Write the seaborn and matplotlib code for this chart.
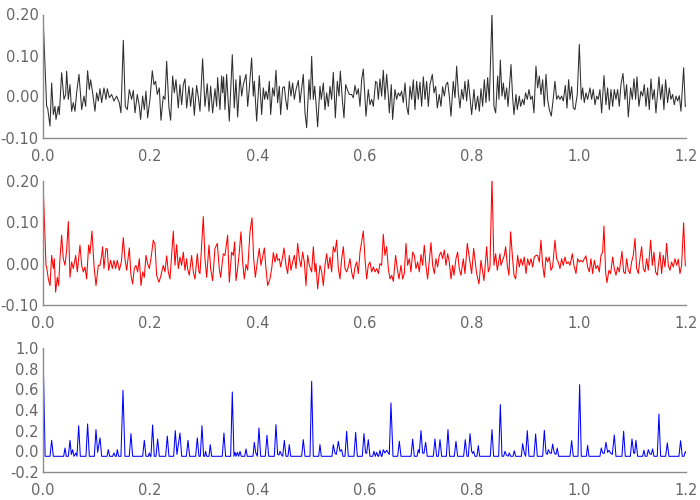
import matplotlib
matplotlib.use("Agg")
import matplotlib.pyplot as plt
import seaborn as sns
import pandas as pd
from matplotlib.ticker import FormatStrFormatter

# ---------------- data ----------------
t_top = [0.0000, 0.0068, 0.0087, 0.0131, 0.0162, 0.0193, 0.0224, 0.0243, 0.0286, 0.0305,
         0.0348, 0.0392, 0.0423, 0.0442, 0.0473, 0.0504, 0.0535, 0.0566, 0.0597, 0.0628,
         0.0672, 0.0722, 0.0765, 0.0796, 0.0833, 0.0865, 0.0889, 0.0927, 0.0970, 0.1001,
         0.1033, 0.1064, 0.1095, 0.1138, 0.1176, 0.1200, 0.1238, 0.1281, 0.1325, 0.1374,
         0.1424, 0.1455, 0.1499, 0.1536, 0.1574, 0.1611, 0.1655, 0.1686, 0.1717, 0.1760,
         0.1798, 0.1822, 0.1860, 0.1891, 0.1922, 0.1953, 0.1997, 0.2040, 0.2071, 0.2102,
         0.2133, 0.2171, 0.2202, 0.2245, 0.2277, 0.2308, 0.2351, 0.2382, 0.2420, 0.2451,
         0.2482, 0.2525, 0.2556, 0.2588, 0.2619, 0.2650, 0.2681, 0.2724, 0.2755, 0.2793,
         0.2824, 0.2867, 0.2905, 0.2930, 0.2979, 0.3023, 0.3066, 0.3098, 0.3129, 0.3166,
         0.3210, 0.3241, 0.3259, 0.3303, 0.3334, 0.3353, 0.3371, 0.3396, 0.3427, 0.3477,
         0.3533, 0.3570, 0.3601, 0.3633,
         0.3677, 0.3708, 0.3739, 0.3789, 0.3820, 0.3851, 0.3894, 0.3925, 0.3944, 0.3988,
         0.4037, 0.4081, 0.4112, 0.4137, 0.4162, 0.4193, 0.4224, 0.4249, 0.4286, 0.4317,
         0.4348, 0.4379, 0.4411, 0.4435, 0.4473, 0.4504, 0.4529, 0.4560, 0.4597, 0.4628,
         0.4659, 0.4690, 0.4722, 0.4765, 0.4796, 0.4858, 0.4890, 0.4921, 0.4964, 0.4989,
         0.5014, 0.5045, 0.5070, 0.5095, 0.5126, 0.5169, 0.5194, 0.5232, 0.5263, 0.5294,
         0.5325, 0.5356, 0.5387, 0.5418, 0.5456, 0.5493, 0.5524, 0.5549, 0.5586, 0.5617,
         0.5648, 0.5679, 0.5717, 0.5760, 0.5791, 0.5823, 0.5854, 0.5885, 0.5916, 0.5947,
         0.5978, 0.6009, 0.6028, 0.6071, 0.6102, 0.6134, 0.6165, 0.6208, 0.6233, 0.6258,
         0.6289, 0.6320, 0.6351, 0.6382, 0.6413, 0.6445, 0.6463, 0.6500, 0.6525, 0.6569,
         0.6600, 0.6631, 0.6662, 0.6693, 0.6724, 0.6756, 0.6787, 0.6818, 0.6849, 0.6880,
         0.6911, 0.6942, 0.6973, 0.7004, 0.7035, 0.7067, 0.7098, 0.7129, 0.7160, 0.7191,
         0.7222, 0.7266, 0.7297, 0.7328, 0.7359, 0.7396, 0.7427, 0.7458, 0.7490, 0.7521,
         0.7552, 0.7583, 0.7614, 0.7657, 0.7689, 0.7720, 0.7751, 0.7782, 0.7813, 0.7844,
         0.7875, 0.7906, 0.7937,
         0.8000, 0.8043, 0.8074, 0.8112, 0.8143, 0.8174, 0.8205, 0.8236, 0.8267, 0.8298,
         0.8329, 0.8379, 0.8416, 0.8448, 0.8485, 0.8510, 0.8535, 0.8566, 0.8591, 0.8622,
         0.8653, 0.8678, 0.8703, 0.8734, 0.8765, 0.8790, 0.8827, 0.8852, 0.8889, 0.8914,
         0.8951, 0.8976, 0.9007, 0.9038, 0.9070, 0.9101, 0.9132, 0.9163, 0.9200, 0.9231,
         0.9262, 0.9293, 0.9325, 0.9356, 0.9387, 0.9418, 0.9449, 0.9486, 0.9524, 0.9555,
         0.9586, 0.9617, 0.9648, 0.9679, 0.9710, 0.9748, 0.9779, 0.9810, 0.9835, 0.9866,
         0.9897, 0.9928, 0.9971, 1.0009, 1.0046, 1.0071, 1.0102, 1.0133, 1.0164, 1.0208,
         1.0239, 1.0270, 1.0301, 1.0332, 1.0363, 1.0394, 1.0426, 1.0469, 1.0506, 1.0537,
         1.0569, 1.0600, 1.0631, 1.0662, 1.0693, 1.0724, 1.0755, 1.0786, 1.0824, 1.0861,
         1.0892, 1.0923, 1.0967, 1.0998, 1.1029, 1.1060, 1.1085, 1.1122, 1.1159, 1.1191,
         1.1222, 1.1253, 1.1284, 1.1315, 1.1346, 1.1377, 1.1408, 1.1439, 1.1495, 1.1526,
         1.1557, 1.1588, 1.1619, 1.1657, 1.1688, 1.1719, 1.1750, 1.1781, 1.1813, 1.1844,
         1.1875, 1.1906, 1.1956, 1.1987, 1.2000]
v_top = [0.200, -0.024, -0.028, -0.072, 0.033, -0.044, -0.024, -0.056, -0.024, -0.044,
         0.058, -0.007, 0.005, 0.062, -0.007, 0.029, -0.036, -0.015, -0.036, 0.009,
         0.054, -0.032, 0.001, -0.024, 0.063, 0.017, 0.041, 0.009, -0.036, 0.009,
         -0.011, 0.019, -0.015, 0.021, -0.007, 0.019, -0.003, 0.005, -0.011, 0.001,
         -0.015, -0.040, 0.137, -0.024, -0.032, 0.017, -0.007, 0.015, -0.040, 0.005,
         -0.024, -0.056, 0.001, -0.032, 0.013, -0.052, -0.007, 0.063, 0.029, 0.037,
         0.005, 0.021, -0.058, 0.001, -0.007, 0.086, -0.028, -0.058, 0.050, 0.009,
         0.041, -0.028, 0.029, -0.020, 0.029, 0.043, -0.028, 0.025, -0.024, 0.021,
         -0.046, 0.027, -0.007, -0.036, 0.092, -0.024, 0.031, -0.036, 0.025, -0.040,
         0.019, -0.024, 0.046, -0.032, 0.050, 0.009, 0.048, -0.032, 0.054, -0.060,
         0.102, -0.028, 0.041, -0.050,
         0.051, 0.001, 0.029, 0.054, -0.024, 0.021, 0.094, 0.001, 0.037, -0.060,
         0.051, -0.044, 0.021, -0.007, 0.013, -0.007, 0.037, -0.044, 0.021, 0.001,
         0.064, -0.015, 0.025, -0.044, 0.021, 0.024, -0.007, -0.032, 0.037, 0.001,
         0.033, -0.007, 0.017, 0.039, -0.015, 0.054, -0.040, -0.076, 0.041, -0.007,
         0.098, -0.007, 0.025, -0.015, -0.074, 0.025, -0.007, 0.033, -0.032, 0.009,
         -0.024, 0.025, -0.007, 0.059, -0.052, 0.037, 0.001, 0.062, -0.007, -0.052,
         0.029, 0.017, 0.005, 0.005, -0.003, 0.027, 0.005, 0.019, -0.024, 0.041,
         0.067, -0.007, -0.048, 0.017, -0.020, -0.007, -0.024, 0.037, 0.033, -0.007,
         0.043, 0.001, 0.064, -0.007, 0.054, 0.001, -0.040, 0.029, -0.056, 0.017,
         -0.007, 0.009, 0.001, 0.013, -0.015, 0.033, -0.024, -0.044, 0.025, -0.007,
         0.041, -0.032, 0.037, -0.007, 0.035, -0.024, 0.048, -0.007, 0.037, -0.024,
         0.029, 0.054, 0.009, 0.025, -0.028, 0.005, -0.024, 0.024, 0.001, 0.029,
         0.035, 0.001, -0.048, 0.037, -0.003, 0.074, 0.009, -0.028, 0.017, -0.007,
         0.037, -0.011, 0.041,
         -0.044, 0.017, -0.032, 0.001, -0.036, 0.019, -0.024, 0.041, -0.015, 0.046,
         -0.011, 0.202, -0.024, -0.040, 0.050, -0.007, 0.089, 0.001, 0.033, -0.007,
         0.021, -0.024, 0.019, 0.078, -0.003, -0.044, 0.005, -0.032, 0.001, -0.024,
         -0.007, -0.020, 0.009, -0.007, 0.017, -0.007, 0.001, -0.040, 0.074, 0.021,
         0.050, 0.005, 0.041, -0.024, 0.054, -0.007, -0.032, -0.048, -0.003, 0.037,
         -0.007, 0.002, -0.007, 0.001, -0.011, 0.027, -0.028, 0.041, -0.007, 0.024,
         -0.028, -0.032, 0.005, 0.127, -0.007, 0.021, -0.015, 0.009, -0.007, 0.021,
         -0.007, 0.017, -0.020, 0.001, -0.007, 0.017, -0.040, 0.051, -0.020, 0.021,
         -0.032, 0.017, -0.024, 0.017, -0.007, 0.017, -0.024, 0.029, 0.056, -0.007,
         0.029, -0.050, 0.021, -0.007, 0.043, -0.007, 0.048, -0.024, 0.013, 0.001,
         0.029, -0.024, 0.021, -0.032, 0.043, -0.007, 0.017, -0.040, 0.048, -0.007,
         0.029, -0.032, 0.041, -0.015, 0.021, -0.007, 0.005, -0.020, 0.001, -0.011,
         0.002, -0.036, 0.070, -0.024, -0.022]

t_mid = [0.0000, 0.0056, 0.0068, 0.0100, 0.0131, 0.0162, 0.0193, 0.0211, 0.0236, 0.0267,
         0.0292, 0.0317, 0.0348, 0.0379, 0.0411, 0.0442, 0.0473, 0.0504, 0.0535, 0.0566,
         0.0610, 0.0641, 0.0690, 0.0722, 0.0753, 0.0784, 0.0815, 0.0852, 0.0877, 0.0914,
         0.0952, 0.0989, 0.1033, 0.1064, 0.1095, 0.1113, 0.1138, 0.1176, 0.1200, 0.1225,
         0.1263, 0.1294, 0.1325, 0.1356, 0.1387, 0.1424, 0.1462, 0.1499, 0.1530, 0.1561,
         0.1611, 0.1642, 0.1673, 0.1704, 0.1736, 0.1767, 0.1798, 0.1829, 0.1860, 0.1891,
         0.1922, 0.1953, 0.1984, 0.2015, 0.2059, 0.2090, 0.2121, 0.2165, 0.2202, 0.2245,
         0.2277, 0.2308, 0.2339, 0.2370, 0.2432, 0.2463, 0.2494, 0.2525, 0.2556, 0.2588,
         0.2619, 0.2650, 0.2681, 0.2699, 0.2731, 0.2774, 0.2805, 0.2836, 0.2880, 0.2911,
         0.2930, 0.2992, 0.3023, 0.3054, 0.3098, 0.3129, 0.3166, 0.3210, 0.3253, 0.3290,
         0.3315, 0.3365, 0.3396, 0.3446, 0.3477,
         0.3521, 0.3552, 0.3577, 0.3602, 0.3633, 0.3658, 0.3695, 0.3726, 0.3757, 0.3789,
         0.3820, 0.3863, 0.3901, 0.3932, 0.3963, 0.4000, 0.4037, 0.4068, 0.4093, 0.4131,
         0.4162, 0.4193, 0.4236, 0.4268, 0.4299, 0.4330, 0.4361, 0.4379, 0.4411, 0.4435,
         0.4467, 0.4498, 0.4535, 0.4566, 0.4597, 0.4628, 0.4659, 0.4690, 0.4722, 0.4753,
         0.4784, 0.4815, 0.4846, 0.4877, 0.4908, 0.4939, 0.4970, 0.5014, 0.5045, 0.5076,
         0.5095, 0.5126, 0.5169, 0.5201, 0.5232, 0.5263, 0.5294, 0.5325, 0.5356, 0.5387,
         0.5418, 0.5449, 0.5480, 0.5512, 0.5543, 0.5574, 0.5605, 0.5636, 0.5667, 0.5698,
         0.5729, 0.5760, 0.5791, 0.5823, 0.5854, 0.5885, 0.5916, 0.5947, 0.5978, 0.6009,
         0.6040, 0.6071, 0.6102, 0.6134, 0.6165, 0.6196, 0.6227, 0.6258, 0.6289, 0.6320,
         0.6351, 0.6382, 0.6413, 0.6445, 0.6476, 0.6507, 0.6538, 0.6581, 0.6612, 0.6644,
         0.6681, 0.6712, 0.6743, 0.6774, 0.6805, 0.6836, 0.6867, 0.6899, 0.6930, 0.6961,
         0.6992, 0.7023, 0.7054, 0.7085, 0.7116, 0.7147, 0.7178, 0.7210, 0.7241, 0.7272,
         0.7303, 0.7334, 0.7365, 0.7396, 0.7427, 0.7458, 0.7490, 0.7521, 0.7552, 0.7583,
         0.7614, 0.7645, 0.7670, 0.7707, 0.7738, 0.7769, 0.7800, 0.7844, 0.7875, 0.7919,
         0.7950, 0.8000, 0.8037, 0.8068, 0.8093, 0.8137, 0.8174, 0.8205, 0.8230, 0.8280,
         0.8311, 0.8342, 0.8379, 0.8416, 0.8448, 0.8479, 0.8528, 0.8547, 0.8578, 0.8609,
         0.8634, 0.8665, 0.8696, 0.8727, 0.8759, 0.8790, 0.8821, 0.8858, 0.8889, 0.8920,
         0.8951, 0.8982, 0.9014, 0.9045, 0.9076, 0.9107, 0.9138, 0.9169, 0.9200, 0.9231,
         0.9262, 0.9293, 0.9325, 0.9356, 0.9387, 0.9418, 0.9449, 0.9480, 0.9511, 0.9555,
         0.9586, 0.9617, 0.9648, 0.9679, 0.9710, 0.9741, 0.9772, 0.9804, 0.9835, 0.9878,
         0.9909, 0.9947, 0.9978, 1.0009, 1.0040, 1.0071, 1.0102, 1.0133, 1.0164, 1.0195,
         1.0226, 1.0258, 1.0289, 1.0320, 1.0351, 1.0382, 1.0413, 1.0444, 1.0469, 1.0500,
         1.0525, 1.0562, 1.0593, 1.0631, 1.0662, 1.0693, 1.0724, 1.0755, 1.0805, 1.0836,
         1.0867, 1.0892, 1.0923, 1.0954, 1.0985, 1.1016, 1.1048, 1.1079, 1.1110, 1.1141,
         1.1172, 1.1203, 1.1234, 1.1265, 1.1296, 1.1340, 1.1371, 1.1402, 1.1433, 1.1464,
         1.1514, 1.1545, 1.1576, 1.1607, 1.1638, 1.1670, 1.1701, 1.1732, 1.1763, 1.1794,
         1.1825, 1.1856, 1.1887, 1.1918, 1.1956, 1.1987, 1.2000]
v_mid = [0.200, -0.004, -0.008, -0.037, -0.053, 0.020, -0.012, 0.012, -0.069, -0.033,
         -0.053, 0.012, 0.069, 0.012, -0.004, 0.033, 0.102, -0.033, 0.004, -0.012,
         0.020, -0.020, 0.045, -0.004, -0.020, -0.008, -0.037, 0.045, 0.024, 0.079,
         -0.004, -0.053, -0.004, -0.004, 0.020, 0.041, -0.012, 0.037, 0.035, -0.016,
         0.008, -0.012, 0.008, -0.012, 0.008, -0.016, 0.004, 0.063, 0.012, -0.016,
         0.038, -0.028, -0.049, -0.012, -0.004, -0.020, 0.012, -0.053, -0.020, -0.033,
         0.020, 0.000, -0.012, 0.012, 0.057, 0.046, -0.028, -0.045, -0.028, -0.004,
         -0.020, 0.019, -0.020, -0.037, 0.079, -0.004, 0.046, -0.012, 0.016, -0.004,
         0.028, -0.016, 0.012, -0.012, -0.028, 0.020, -0.020, -0.037, 0.024, -0.020,
         -0.024, 0.114, 0.012, -0.033, 0.045, -0.012, -0.041, 0.037, 0.049, -0.012,
         -0.033, 0.024, 0.020, 0.069, -0.045,
         0.028, 0.020, 0.053, -0.041, -0.012, 0.020, 0.077, 0.004, -0.037, -0.002,
         -0.016, 0.077, 0.111, 0.012, -0.033, 0.004, 0.037, -0.004, 0.012, 0.038,
         -0.012, -0.053, -0.037, -0.012, 0.027, 0.004, 0.024, 0.008, 0.012, -0.008,
         0.012, 0.038, -0.004, -0.024, 0.020, -0.016, 0.004, 0.020, -0.012, 0.049,
         0.012, -0.008, 0.028, 0.004, -0.053, 0.020, -0.004, -0.020, 0.041, -0.020,
         0.000, -0.061, -0.004, -0.020, -0.053, -0.004, 0.024, -0.012, 0.016, -0.020,
         0.041, 0.028, 0.057, -0.012, -0.037, 0.012, 0.041, -0.012, -0.020, -0.008,
         0.012, -0.020, -0.037, -0.008, 0.004, -0.024, 0.028, 0.053, 0.079, 0.012,
         -0.037, -0.004, 0.004, -0.020, -0.008, -0.020, -0.012, -0.024, 0.000, -0.004,
         0.071, 0.020, 0.041, -0.012, -0.037, -0.028, -0.043, 0.020, -0.012, -0.037,
         -0.004, -0.037, -0.024, 0.049, -0.004, 0.012, -0.020, 0.028, 0.020, -0.012,
         0.004, -0.020, 0.022, -0.004, 0.045, -0.004, -0.037, 0.008, 0.051, -0.004,
         -0.024, 0.012, -0.008, 0.020, 0.028, 0.012, 0.033, -0.004, 0.024, 0.004,
         -0.037, -0.004, -0.028, 0.012, 0.028, -0.012, -0.028, 0.012, -0.024, 0.049,
         0.020, -0.024, 0.037, 0.004, -0.024, -0.049, 0.008, -0.020, -0.041, 0.041,
         -0.020, -0.008, 0.207, -0.004, 0.024, -0.016, 0.024, -0.004, 0.008, 0.020,
         0.041, -0.004, -0.028, 0.077, 0.020, -0.028, -0.037, 0.020, -0.008, 0.012,
         -0.004, 0.016, -0.024, 0.012, -0.004, 0.012, -0.008, 0.016, 0.020, 0.020,
         0.004, 0.057, -0.004, -0.033, 0.016, 0.004, 0.016, -0.016, -0.008, 0.057,
         0.012, 0.004, -0.012, 0.012, -0.004, 0.016, 0.000, 0.004, -0.004, 0.024,
         -0.004, -0.024, 0.012, 0.004, 0.008, 0.004, 0.012, 0.019, -0.008, -0.020,
         0.012, -0.024, 0.008, -0.012, -0.004, -0.020, 0.020, 0.028, 0.091, -0.020,
         -0.046, -0.016, -0.024, 0.016, -0.012, -0.028, -0.008, -0.020, 0.030, -0.020,
         -0.024, 0.012, -0.016, -0.024, 0.004, 0.020, 0.061, -0.012, -0.024, 0.012,
         0.041, -0.012, -0.020, 0.012, -0.016, 0.057, -0.004, 0.028, -0.020, -0.028,
         0.028, -0.024, 0.020, -0.008, 0.049, -0.004, -0.016, 0.004, -0.008, 0.012,
         -0.004, 0.011, -0.024, -0.004, 0.099, -0.004, -0.006]

t_bot = [0.0000, 0.0040, 0.0131, 0.0162, 0.0193, 0.0386, 0.0411, 0.0435, 0.0473, 0.0504,
         0.0529, 0.0554, 0.0578, 0.0616, 0.0634, 0.0666, 0.0697, 0.0802, 0.0833, 0.0865,
         0.0958, 0.0989, 0.1020, 0.1064, 0.1095, 0.1195, 0.1219, 0.1244, 0.1300, 0.1325,
         0.1350, 0.1368, 0.1387, 0.1412, 0.1455, 0.1493, 0.1530, 0.1611, 0.1642, 0.1673,
         0.1860, 0.1891, 0.1922, 0.1966, 0.1984, 0.2003, 0.2015, 0.2046, 0.2077, 0.2109,
         0.2140, 0.2171, 0.2289, 0.2320, 0.2351, 0.2438, 0.2469, 0.2500, 0.2557, 0.2588,
         0.2675, 0.2706, 0.2737, 0.2849, 0.2880, 0.2911, 0.2936, 0.2967, 0.2998, 0.3017,
         0.3035, 0.3054, 0.3098, 0.3122, 0.3147, 0.3346, 0.3377, 0.3408, 0.3502, 0.3533,
         0.3564, 0.3583, 0.3602, 0.3627, 0.3652, 0.3677, 0.3701, 0.3764, 0.3789, 0.3813,
         0.3919, 0.3944, 0.3969, 0.4000, 0.4031, 0.4062, 0.4149, 0.4180, 0.4212, 0.4317,
         0.4348, 0.4379, 0.4404, 0.4423, 0.4448, 0.4473, 0.4504, 0.4535, 0.4572, 0.4597,
         0.4622, 0.4827, 0.4858, 0.4890, 0.4983, 0.5014, 0.5045, 0.5145, 0.5169, 0.5194,
         0.5393, 0.5418, 0.5449, 0.5474, 0.5512, 0.5543, 0.5574, 0.5599, 0.5636, 0.5667,
         0.5698, 0.5804, 0.5835, 0.5866, 0.5959, 0.5990, 0.6021, 0.6040, 0.6071, 0.6102,
         0.6152, 0.6177, 0.6202, 0.6227, 0.6252, 0.6264, 0.6289, 0.6314, 0.6326, 0.6351,
         0.6382, 0.6413, 0.6445, 0.6463, 0.6494, 0.6532, 0.6619, 0.6650, 0.6681, 0.6868,
         0.6899, 0.6930, 0.6980, 0.7004, 0.7023, 0.7054, 0.7085, 0.7110, 0.7141, 0.7172,
         0.7284, 0.7315, 0.7346, 0.7378, 0.7409, 0.7440, 0.7527, 0.7558, 0.7589, 0.7676,
         0.7707, 0.7738, 0.7850, 0.7881, 0.7912, 0.7938, 0.7969, 0.8000, 0.8018, 0.8037,
         0.8062, 0.8099, 0.8124, 0.8149, 0.8348, 0.8379, 0.8410, 0.8504, 0.8535, 0.8566,
         0.8597, 0.8622, 0.8647, 0.8678, 0.8703, 0.8727, 0.8771, 0.8796, 0.8821, 0.8927,
         0.8951, 0.8982, 0.9007, 0.9038, 0.9070, 0.9163, 0.9194, 0.9225, 0.9325, 0.9356,
         0.9387, 0.9412, 0.9430, 0.9462, 0.9486, 0.9511, 0.9542, 0.9573, 0.9598, 0.9623,
         0.9835, 0.9866, 0.9897, 0.9984, 1.0015, 1.0046, 1.0140, 1.0164, 1.0189, 1.0394,
         1.0419, 1.0444, 1.0475, 1.0506, 1.0537, 1.0562, 1.0593, 1.0624, 1.0662, 1.0693,
         1.0805, 1.0836, 1.0867, 1.0961, 1.0992, 1.1023, 1.1041, 1.1066, 1.1097, 1.1191,
         1.1215, 1.1240, 1.1271, 1.1296, 1.1321, 1.1352, 1.1377, 1.1402, 1.1464, 1.1495,
         1.1526, 1.1620, 1.1651, 1.1682, 1.1868, 1.1899, 1.1931, 1.1962, 1.1987, 1.2000]
B = -0.048
v_bot = [1.000, B, B, 0.106, B, B, 0.032, B, B, 0.106,
         -0.030, 0.016, B, -0.016, B, 0.248, B, B, 0.265, B,
         B, 0.210, -0.010, 0.130, B, B, 0.016, B, B, -0.016,
         B, B, 0.016, B, B, 0.590, B, B, 0.171, B,
         B, 0.106, B, B, -0.016, B, B, 0.255, B, B,
         0.119, B, B, 0.148, B, B, 0.200, -0.030, 0.177, B,
         B, 0.106, B, B, 0.130, B, B, 0.248, B, B,
         0.000, B, B, 0.065, B, B, 0.177, B, B, 0.574,
         B, -0.010, B, -0.010, B, 0.000, B, B, 0.023, B,
         B, 0.087, -0.010, B, 0.226, B, B, 0.155, B, B,
         0.258, -0.030, -0.035, 0.000, -0.030, B, 0.106, B, B, 0.065,
         B, B, 0.113, B, B, 0.677, B, B, 0.065, B,
         B, 0.065, -0.016, -0.030, 0.097, 0.000, 0.016, B, B, 0.194,
         B, B, 0.184, B, B, 0.171, -0.016, -0.020, 0.113, B,
         B, 0.000, B, -0.010, B, B, 0.010, B, B, 0.016,
         -0.016, 0.010, -0.016, -0.030, 0.468, B, B, 0.097, B, B,
         0.119, B, B, 0.016, -0.016, 0.200, -0.016, -0.020, 0.087, B,
         B, 0.119, B, B, 0.113, B, B, 0.210, B, B,
         0.097, B, B, 0.113, B, B, 0.171, 0.000, -0.020, 0.000,
         B, B, 0.055, B, B, 0.210, B, B, 0.452, B,
         B, 0.000, -0.035, B, -0.016, B, B, 0.006, B, B,
         0.074, -0.016, B, 0.200, B, B, 0.168, B, B, 0.203,
         -0.016, -0.030, 0.016, -0.016, -0.020, 0.071, -0.016, -0.030, 0.032, B,
         B, 0.103, B, B, 0.645, B, B, 0.058, B, B,
         0.032, -0.016, -0.020, 0.087, -0.010, 0.010, -0.016, -0.030, 0.158, B,
         B, 0.194, B, B, 0.119, -0.016, -0.020, 0.106, B, B,
         0.010, B, B, 0.016, -0.020, -0.030, 0.023, B, B, 0.361,
         B, B, 0.081, B, B, 0.103, B, B, -0.003, -0.016]

x_ticks = [0.0, 0.2, 0.4, 0.6, 0.8, 1.0, 1.2]
y_ticks_small = [-0.10, 0.00, 0.10, 0.20]
y_ticks_big = [-0.2, 0.0, 0.2, 0.4, 0.6, 0.8, 1.0]

panels = [
    (t_top, v_top, "#2e2e2e", (-0.10, 0.20), y_ticks_small, "%.2f"),
    (t_mid, v_mid, "#ff0000", (-0.10, 0.20), y_ticks_small, "%.2f"),
    (t_bot, v_bot, "#0000ff", (-0.20, 1.00), y_ticks_big, "%.1f"),
]

# ---------------- style ----------------
sns.set_theme(style="white")
plt.rcParams["font.family"] = ["DejaVu Sans"]
plt.rcParams["axes.unicode_minus"] = False

fig = plt.figure(figsize=(7, 5), dpi=100)
rects = [
    [0.0614, 0.725, 0.9186, 0.246],
    [0.0614, 0.390, 0.9186, 0.248],
    [0.0614, 0.056, 0.9186, 0.248],
]
axis_grey = "#8c8c8c"
label_grey = "#666666"

for rect, (t, v, col, ylim, yt, fmt) in zip(rects, panels):
    ax = fig.add_axes(rect)
    df = pd.DataFrame({"t": t, "v": v})
    sns.lineplot(data=df, x="t", y="v", ax=ax, color=col, linewidth=0.75,
                 estimator=None, sort=False)
    ax.set_xlim(0, 1.2)
    ax.set_ylim(*ylim)
    ax.set_xticks(x_ticks)
    ax.set_yticks(yt)
    ax.xaxis.set_major_formatter(FormatStrFormatter("%.1f"))
    ax.yaxis.set_major_formatter(FormatStrFormatter(fmt))
    ax.set_xlabel("")
    ax.set_ylabel("")
    for s in ["top", "right"]:
        ax.spines[s].set_visible(False)
    for s in ["left", "bottom"]:
        ax.spines[s].set_color(axis_grey)
        ax.spines[s].set_linewidth(1.0)
    ax.tick_params(axis="both", direction="in", length=3, width=0.8,
                   color=axis_grey, labelcolor=label_grey, labelsize=10.5)
    ax.tick_params(axis="x", pad=8)
    ax.tick_params(axis="y", pad=3)
    ax.set_facecolor("white")

fig.savefig("out.png", dpi=100, facecolor="white")
